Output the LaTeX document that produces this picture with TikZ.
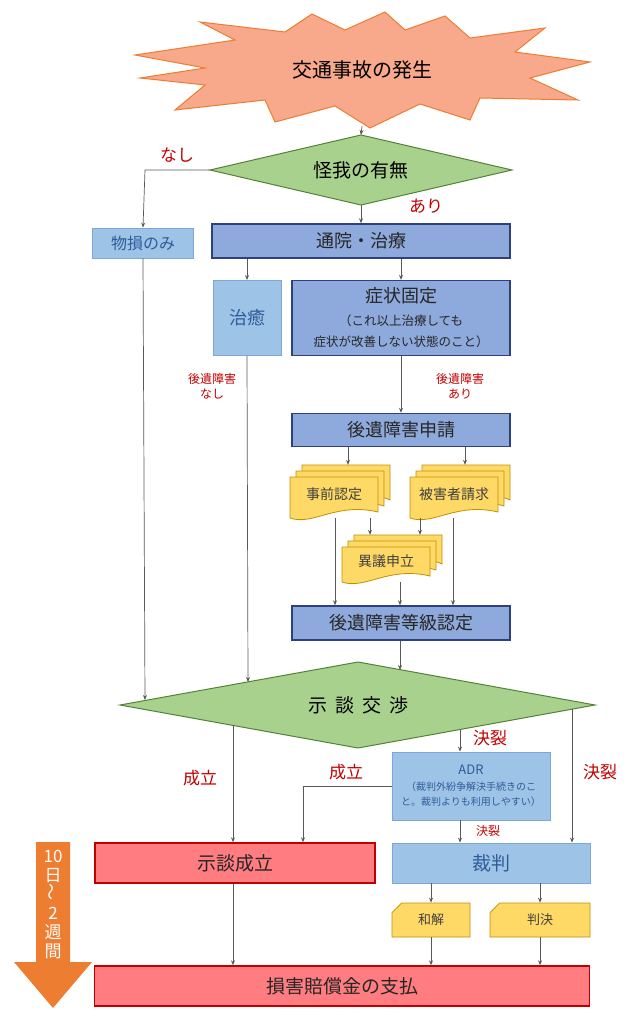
\documentclass[tikz,border=0pt]{standalone}
\usepackage{fontspec}
\setmainfont{Noto Sans CJK JP}
\usetikzlibrary{shapes.geometric,shapes.misc,arrows.meta}

\definecolor{peri}{HTML}{8EA9DB}
\definecolor{periline}{HTML}{2F3F7F}
\definecolor{lblue}{HTML}{9DC3E6}
\definecolor{lbline}{HTML}{7EA6D8}
\definecolor{lbtext}{HTML}{2E5C9A}
\definecolor{docfill}{HTML}{FFD966}
\definecolor{docline}{HTML}{BF9000}
\definecolor{redfill}{HTML}{FF7C80}
\definecolor{redline}{HTML}{C00000}
\definecolor{greenfill}{HTML}{A9D18E}
\definecolor{greenline}{HTML}{548235}
\definecolor{starfill}{HTML}{F8A98B}
\definecolor{starline}{HTML}{ED7D31}
\definecolor{arrowgray}{HTML}{595959}

\tikzset{
  stepbox/.style={draw=periline, fill=peri, line width=1.4pt, text=black!85, font=\fontsize{18}{21}\selectfont},
  lightbox/.style={draw=lbline, fill=lblue, line width=0.8pt, text=lbtext, font=\fontsize{18}{21}\selectfont},
  redbox/.style={draw=redline, fill=redfill, line width=1.4pt, text=black!85, font=\fontsize{19}{22}\selectfont},
  docstyle/.style={draw=docline, fill=docfill, line width=0.8pt},
  decision/.style={draw=greenline, fill=greenfill, line width=1pt},
  lbl/.style={text=redline, font=\fontsize{17}{20}\selectfont},
  slbl/.style={text=redline, font=\fontsize{12}{15}\selectfont, align=center},
  flow/.style={draw=arrowgray, line width=0.7pt, -{Stealth[length=5pt,width=4pt]}},
  plain/.style={draw=arrowgray, line width=0.7pt}
}

% document sheet with wavy bottom: x1 y1 x2 y2
\newcommand\docpath[4]{%
  \filldraw[docstyle] (#1,#2) -- (#3,#2) -- (#3,#4-6)
    .. controls (#3-0.3*#3+0.3*#1,#4-16) and (#1+0.35*#3-0.35*#1,#4+8) .. (#1,#4) -- cycle;}
% stack of three sheets: name x1 y1 x2 y2 text
\newcommand\multidoc[6]{%
  \docpath{#2+12}{#3}{#4}{#5-12}
  \docpath{#2+6}{#3+6}{#4-6}{#5-6}
  \docpath{#2}{#3+12}{#4-12}{#5}
  \node[inner sep=0, minimum width=#4-#2, minimum height=#5-#3] (#1) at ({(#2+#4)/2},{(#3+#5)/2}) {};
  \node[text=black!75, font=\fontsize{14}{16}\selectfont] (#1txt) at ({(#2+#4)/2-6},{(#3+#5)/2+3}) {#6};}

\begin{document}
\begin{tikzpicture}[x=1pt, y=-1pt]
  \useasboundingbox (0,0) rectangle (644,1024);

  % start
  \filldraw[draw=starline, fill=starfill, line width=1pt]
    (135,55) -- (235,40) -- (200,22) -- (285,32) -- (312,14) -- (345,30) -- (385,12) -- (405,30)
    -- (445,16) -- (470,38) -- (545,28) -- (515,52) -- (590,62) -- (530,78) -- (578,100)
    -- (480,98) -- (470,120) -- (420,104) -- (370,128) -- (335,106) -- (275,122) -- (265,100)
    -- (175,110) -- (205,85) -- (140,78) -- (205,68) -- cycle;
  \node[font=\fontsize{20}{23}\selectfont] (accident) at (362,70) {交通事故の発生};
  \coordinate (accbottom) at (362,126);

  % injury decision
  \coordinate (injW) at (210,170);
  \coordinate (injN) at (361,135);
  \coordinate (injE) at (512,170);
  \coordinate (injS) at (361,205);
  \filldraw[decision] (injW) -- (injN) -- (injE) -- (injS) -- cycle;
  \node[font=\fontsize{19}{22}\selectfont] (injury) at (361,170) {怪我の有無};
  \node[lbl] (nashi) at (177,155) {なし};
  \node[lbl] (ari) at (426,206) {あり};

  \node[lightbox, minimum width=101pt, minimum height=30pt, inner sep=0, font=\fontsize{16}{18}\selectfont] (property) at (143,243) {物損のみ};
  \node[stepbox, minimum width=298pt, minimum height=34pt, inner sep=0] (visit) at (361,241) {通院・治療};
  \node[lightbox, minimum width=68pt, minimum height=75pt, inner sep=0] (cured) at (247,318) {治癒};
  \node[stepbox, minimum width=218pt, minimum height=75pt, inner sep=0, align=center] (fixed) at (401,318)
    {症状固定\\[2pt]{\fontsize{12.5}{15}\selectfont（これ以上治療しても}\\{\fontsize{12.5}{15}\selectfont 症状が改善しない状態のこと）}};

  \node[slbl] (nolasting) at (212,386) {後遺障害\\なし};
  \node[slbl] (lasting) at (460,386) {後遺障害\\あり};

  \node[stepbox, minimum width=218pt, minimum height=33pt, inner sep=0] (apply) at (401,430) {後遺障害申請};

  \multidoc{prior}{290}{465}{390}{518}{事前認定}
  \multidoc{victim}{410}{465}{510}{518}{被害者請求}
  \multidoc{objection}{342}{535}{442}{582}{異議申立}

  \node[stepbox, minimum width=218pt, minimum height=34pt, inner sep=0] (grade) at (401,623) {後遺障害等級認定};

  % negotiation
  \filldraw[decision] (120,705) -- (358,662) -- (595,705) -- (358,748) -- cycle;
  \node[font=\fontsize{19}{22}\selectfont] (nego) at (358,705) {示\hspace{8pt}談\hspace{8pt}交\hspace{8pt}渉};

  \node[lightbox, minimum width=158pt, minimum height=68pt, inner sep=0, align=center, font=\fontsize{13}{15}\selectfont] (adr) at (471,786)
    {ADR\\[1pt]{\fontsize{10}{12}\selectfont （裁判外紛争解決手続きのこ}\\{\fontsize{10}{12}\selectfont と。裁判よりも利用しやすい）}};

  \node[lbl] (fail1) at (490,738) {決裂};
  \node[lbl] (fail2) at (600,772) {決裂};
  \node[lbl] (ok1) at (200,778) {成立};
  \node[lbl] (ok2) at (346,772) {成立};
  \node[slbl] (fail3) at (488,831) {決裂};

  \node[redbox, minimum width=280pt, minimum height=40pt, inner sep=0] (settled) at (235,863) {示談成立};
  \node[lightbox, minimum width=198pt, minimum height=40pt, inner sep=0, font=\fontsize{19}{22}\selectfont] (trial) at (491,863) {裁判};

  \node[docstyle, chamfered rectangle, chamfered rectangle corners=north west, chamfered rectangle xsep=10pt,
        minimum width=78pt, minimum height=34pt, inner sep=0, font=\fontsize{13}{15}\selectfont, text=black!75] (peace) at (431,920) {和解};
  \node[docstyle, chamfered rectangle, chamfered rectangle corners=north west, chamfered rectangle xsep=10pt,
        minimum width=100pt, minimum height=34pt, inner sep=0, font=\fontsize{13}{15}\selectfont, text=black!75] (verdict) at (540,920) {判決};

  \node[redbox, minimum width=495pt, minimum height=40pt, inner sep=0] (payment) at (342,986) {損害賠償金の支払};

  % duration arrow
  \filldraw[fill=starline, draw=none] (36,842) -- (70,842) -- (70,962) -- (92,962) -- (53,1008)
    -- (14,962) -- (36,962) -- cycle;
  \node[text=white, align=center, font=\fontsize{17}{19}\selectfont, inner sep=0] (period) at (53,905)
    {10\\日\\\rotatebox{90}{〜}\\2\\週\\間};

  % edge points on the diamond
  \coordinate (nego145) at (145,700);
  \coordinate (nego248) at (248,682);
  \coordinate (nego400) at (400,670);
  \coordinate (nego233) at (233,725);
  \coordinate (nego460) at (460,730);
  \coordinate (nego572) at (572,709);
  \coordinate (bend1) at (145,170);
  \coordinate (bend2) at (303,786);

  % connectors
  \draw[flow] (accbottom) -- (injN);
  \draw[flow] (injW) -- (bend1) -- (property.north);
  \draw[flow] (injS) -- (visit.north);
  \draw[flow] (property.south) -- (nego145);
  \draw[flow] (visit.south -| cured) -- (cured.north);
  \draw[flow] (visit.south -| fixed) -- (fixed.north);
  \draw[flow] (cured.south) -- (nego248);
  \draw[flow] (fixed.south) -- (apply.north);
  \draw[flow] (apply.south -| 348,0) -- (prior.north -| 348,0);
  \draw[flow] (apply.south -| 465,0) -- (victim.north -| 465,0);
  \draw[flow] (prior.south -| 335,0) -- (grade.north -| 335,0);
  \draw[flow] (prior.south -| 370,0) -- (objection.north -| 370,0);
  \draw[flow] (victim.south -| 420,0) -- (objection.north -| 420,0);
  \draw[flow] (victim.south -| 453,0) -- (grade.north -| 453,0);
  \draw[flow] (objection.south -| 400,0) -- (grade.north -| 400,0);
  \draw[flow] (grade.south -| 400,0) -- (nego400);
  \draw[flow] (nego233) -- (settled.north -| nego233);
  \draw[flow] (nego460) -- (adr.north -| nego460);
  \draw[flow] (nego572) -- (trial.north -| nego572);
  \draw[flow] (adr.west) -- (bend2) -- (settled.north -| bend2);
  \draw[flow] (adr.south -| nego460) -- (trial.north -| nego460);
  \draw[flow] (settled.south -| nego233) -- (payment.north -| nego233);
  \draw[flow] (trial.south -| peace) -- (peace.north);
  \draw[flow] (trial.south -| verdict) -- (verdict.north);
  \draw[flow] (peace.south) -- (payment.north -| peace);
  \draw[flow] (verdict.south) -- (payment.north -| verdict);
\end{tikzpicture}
\end{document}
